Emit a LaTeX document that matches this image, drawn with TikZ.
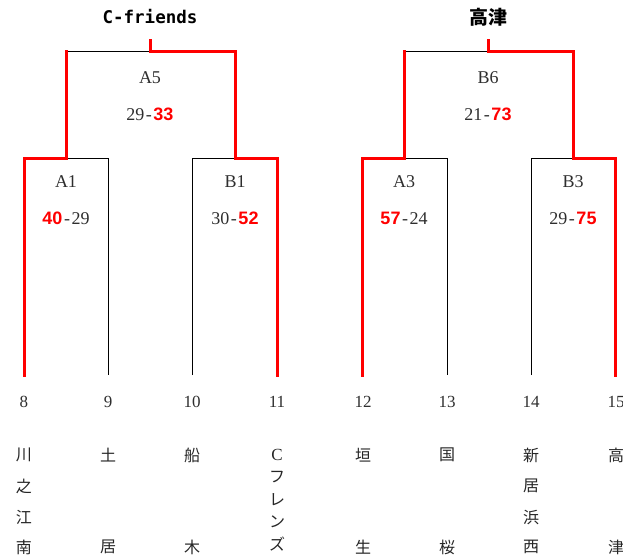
\documentclass[tikz,border=0pt]{standalone}
\usepackage{fontspec}
\setmainfont{Liberation Serif}
\newfontfamily\cjk{Noto Sans CJK JP}
\newfontfamily\redfont{Liberation Sans}
\newfontfamily\titlemono{DejaVu Sans Mono}
\newcommand{\rsc}[1]{{\color{red}\redfont\bfseries #1}}
\newcommand{\hyph}{\makebox[9pt]{-}}
\tikzset{
  winline/.style={draw=red, line width=3pt, line join=miter, line cap=rect},
  loseline/.style={draw=black, line width=0.9pt, line join=miter},
  lbl/.style={text=black!82, font=\fontsize{18}{21}\selectfont, inner sep=0pt},
  leafno/.style={text=black!82, font=\fontsize{17}{20}\selectfont, inner sep=0pt},
  team/.style={text=black!85, font=\cjk\fontsize{16}{19}\selectfont, inner sep=0pt},
  ttl/.style={text=black, inner sep=0pt},
}
\begin{document}
\begin{tikzpicture}[x=1pt,y=-1pt]
\useasboundingbox (0,0) rectangle (623,558);

% ---------- left half coordinates ----------
\coordinate (l8b) at (24,375);  \coordinate (l8t) at (24,158);
\coordinate (a1m) at (66,158);  \coordinate (a1top) at (66,51);
\coordinate (l9t) at (108,158); \coordinate (l9b) at (108,375);
\coordinate (a5m) at (150,51);  \coordinate (a5s) at (150,40);
\coordinate (l10t) at (192,158); \coordinate (l10b) at (192,375);
\coordinate (b1m) at (235,158); \coordinate (b1top) at (235,51);
\coordinate (l11t) at (277,158); \coordinate (l11b) at (277,375);

% ---------- right half coordinates ----------
\coordinate (l12b) at (362,375); \coordinate (l12t) at (362,158);
\coordinate (a3m) at (404,158);  \coordinate (a3top) at (404,51);
\coordinate (l13t) at (447,158); \coordinate (l13b) at (447,375);
\coordinate (b6m) at (488,51);   \coordinate (b6s) at (488,40);
\coordinate (l14t) at (531,158); \coordinate (l14b) at (531,375);
\coordinate (b3m) at (573,158);  \coordinate (b3top) at (573,51);
\coordinate (l15t) at (615,158); \coordinate (l15b) at (615,375);

% ---------- losing (black) lines ----------
\draw[loseline] (a1m) -- (l9t) -- (l9b);
\draw[loseline] (a1top) -- (a5m);
\draw[loseline] (l10b) -- (l10t) -- (b1m);
\draw[loseline] (a3m) -- (l13t) -- (l13b);
\draw[loseline] (a3top) -- (b6m);
\draw[loseline] (l14b) -- (l14t) -- (b3m);

% ---------- winning (red) lines ----------
\draw[winline] (l8b) -- (l8t) -- (a1m) -- (a1top);
\draw[winline] (a5s) -- (a5m) -- (b1top) -- (b1m) -- (l11t) -- (l11b);
\draw[winline] (l12b) -- (l12t) -- (a3m) -- (a3top);
\draw[winline] (b6s) -- (b6m) -- (b3top) -- (b3m) -- (l15t) -- (l15b);

% ---------- titles ----------
\node[ttl, font=\titlemono\bfseries\fontsize{17.5}{20}\selectfont] (champL) at (150,17) {C-friends};
\node[ttl, font=\cjk\bfseries\fontsize{19}{22}\selectfont] (champR) at (488,17) {高津};

% ---------- match labels ----------
\node[lbl] (a5) at (150,78) {A5};
\node[lbl] (a5sc) at (150,114) {29\hyph\rsc{33}};
\node[lbl] (a1) at (66,182) {A1};
\node[lbl] (a1s) at (66,218) {\rsc{40}\hyph 29};
\node[lbl] (b1) at (235,182) {B1};
\node[lbl] (b1s) at (235,218) {30\hyph\rsc{52}};
\node[lbl] (b6) at (488,78) {B6};
\node[lbl] (b6sc) at (488,114) {21\hyph\rsc{73}};
\node[lbl] (a3) at (404,182) {A3};
\node[lbl] (a3s) at (404,218) {\rsc{57}\hyph 24};
\node[lbl] (b3) at (573,182) {B3};
\node[lbl] (b3s) at (573,218) {29\hyph\rsc{75}};

% ---------- leaf numbers ----------
\node[leafno] (n8) at (24,402) {8};
\node[leafno] (n9) at (108,402) {9};
\node[leafno] (n10) at (192,402) {10};
\node[leafno] (n11) at (277,402) {11};
\node[leafno] (n12) at (363,402) {12};
\node[leafno] (n13) at (447,402) {13};
\node[leafno] (n14) at (531,402) {14};
\node[leafno] (n15) at (616,402) {15};

% ---------- team names ----------
\node[team] (t8a) at (24,455) {川};
\node[team] (t8b) at (24,486) {之};
\node[team] (t8c) at (24,517) {江};
\node[team] (t8d) at (24,547) {南};
\node[team] (t9a) at (108,455) {土};
\node[team] (t9b) at (108,547) {居};
\node[team] (t10a) at (192,455) {船};
\node[team] (t10b) at (192,547) {木};
\node[team, font=\fontsize{17}{20}\selectfont] (t11a) at (277,455) {C};
\node[team] (t11b) at (277,477) {フ};
\node[team] (t11c) at (277,500) {レ};
\node[team] (t11d) at (277,522) {ン};
\node[team] (t11e) at (277,544) {ズ};
\node[team] (t12a) at (363,455) {垣};
\node[team] (t12b) at (363,547) {生};
\node[team] (t13a) at (447,455) {国};
\node[team] (t13b) at (447,547) {桜};
\node[team] (t14a) at (531,455) {新};
\node[team] (t14b) at (531,486) {居};
\node[team] (t14c) at (531,517) {浜};
\node[team] (t14d) at (531,547) {西};
\node[team] (t15a) at (616,455) {高};
\node[team] (t15b) at (616,547) {津};
\end{tikzpicture}
\end{document}
